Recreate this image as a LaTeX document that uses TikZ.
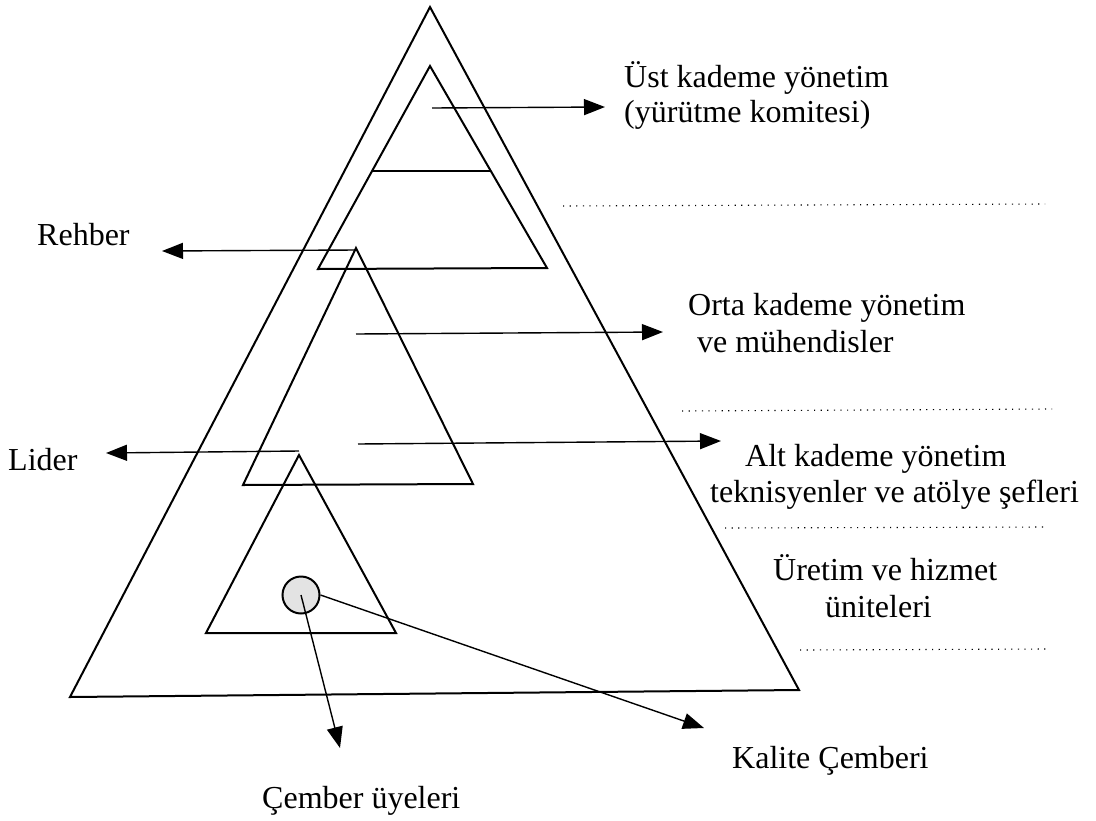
\documentclass[tikz,border=0pt]{standalone}
\usepackage{fontspec}
\setmainfont{Liberation Serif}
\usetikzlibrary{arrows.meta}
\begin{document}
\begin{tikzpicture}[x=1pt,y=-1pt,
  tri/.style={line width=2pt, line join=miter},
  conn/.style={line width=1.4pt, -{Triangle[length=21pt,width=16pt]}},
  sep/.style={line width=1.1pt, dash pattern=on 1.2pt off 5.4pt},
  lbl/.style={anchor=base west, inner sep=0pt, font=\fontsize{32}{37}\selectfont}]
\useasboundingbox (0,0) rectangle (1096,820);

% outer pyramid
\draw[tri] (430,7) -- (799,690) -- (70,697) -- cycle;
% upper management triangle with its band
\draw[tri] (430,66) -- (547,268) -- (318,269) -- cycle;
\draw[tri] (373,171) -- (490,171);
% middle triangle
\draw[tri] (356,248) -- (473,484) -- (243,485) -- cycle;
% lower triangle
\draw[tri] (299,455) -- (396,633) -- (206,633) -- cycle;
% quality circle
\node[circle, draw, line width=2pt, fill=gray!22, minimum size=37pt, inner sep=0pt] (circ) at (301,595) {};

% level separators
\draw[sep] (563,206) -- (1045,204);
\draw[sep] (682,411) -- (1052,409);
\draw[sep] (725,528) -- (1048,527);
\draw[sep] (800,650) -- (1048,649);

% labels
\node[lbl] (ust1) at (624,87) {Üst kademe yönetim};
\node[lbl] (ust2) at (624,122) {(yürütme komitesi)};
\node[lbl] (rehber) at (37,245) {Rehber};
\node[lbl] (orta1) at (688,315) {Orta kademe yönetim};
\node[lbl] (orta2) at (697,352) {ve mühendisler};
\node[lbl] (lider) at (8,470) {Lider};
\node[lbl] (alt1) at (745,466) {Alt kademe yönetim};
\node[lbl] (alt2) at (710,502) {teknisyenler ve atölye şefleri};
\node[lbl] (uret1) at (773,580) {Üretim ve hizmet};
\node[lbl] (uret2) at (825,617) {üniteleri};
\node[lbl] (kalite) at (732,768) {Kalite Çemberi};
\node[lbl] (cember) at (262,808) {Çember üyeleri};

% arrow anchors
\coordinate (aUst) at (432,108);
\coordinate (tUst) at (605,107);
\coordinate (aReh) at (356,250);
\coordinate (tReh) at (162,251);
\coordinate (aOrta) at (356,334);
\coordinate (tOrta) at (663,332);
\coordinate (aAlt) at (358,444);
\coordinate (tAlt) at (721,441);
\coordinate (aLid) at (299,451);
\coordinate (tLid) at (106,453);
\coordinate (tCem) at (340,748);
\coordinate (tKal) at (704,728);

% connectors
\draw[conn] (aUst) -- (tUst);
\draw[conn] (aReh) -- (tReh);
\draw[conn] (aOrta) -- (tOrta);
\draw[conn] (aAlt) -- (tAlt);
\draw[conn] (aLid) -- (tLid);
\draw[conn] (circ.center) -- (tCem);
\draw[conn] (circ.east) -- (tKal);
\end{tikzpicture}
\end{document}
